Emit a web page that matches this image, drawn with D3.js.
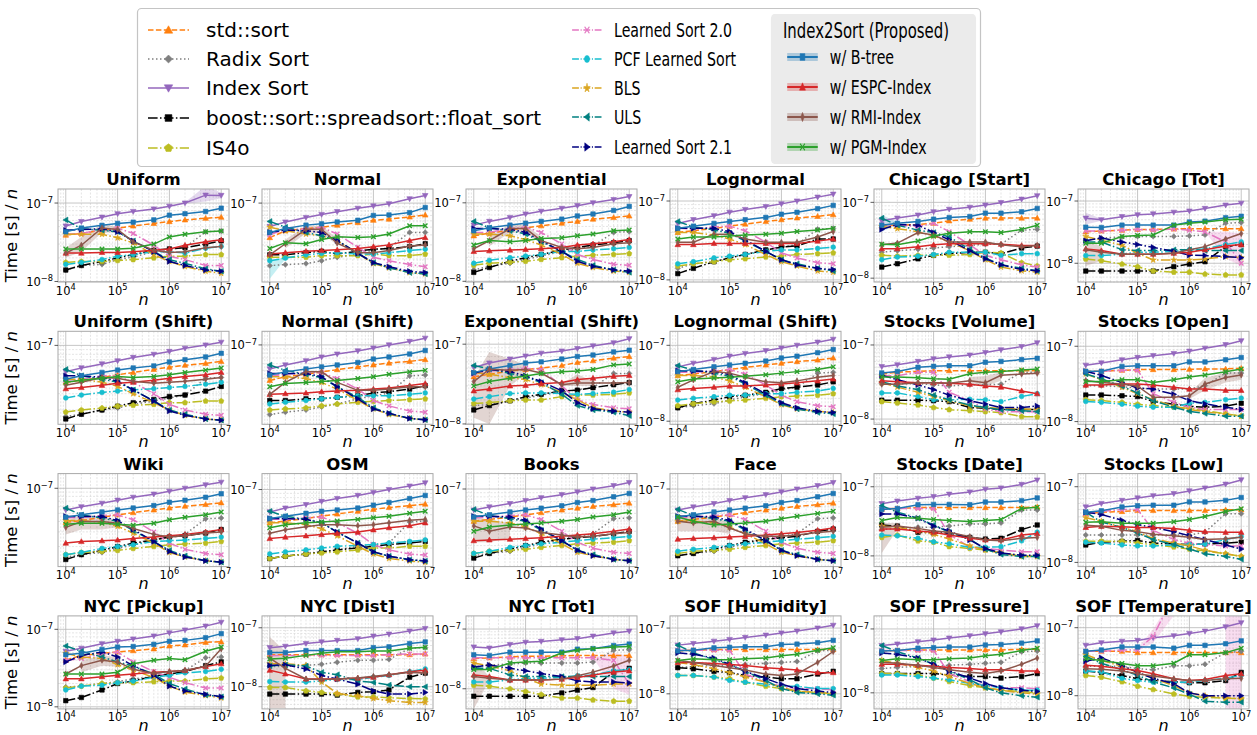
<!DOCTYPE html>
<html>
<head>
<meta charset="utf-8">
<script src="https://cdn.jsdelivr.net/npm/d3@7"></script>
<style>
  body { margin: 0; background: #fff; }
  svg text { font-family: "DejaVu Sans", sans-serif; fill: #000; }
</style>
</head>
<body>
<div id="chart"></div>
<script>
// input sizes n (x axis)
const sizes = [1e4, 2e4, 5e4, 1e5, 2e5, 5e5, 1e6, 2e6, 5e6, 1e7];

const seriesNames = ["std::sort", "Radix Sort", "Index Sort", "boost::sort::spreadsort::float_sort", "IS4o",
  "Learned Sort 2.0", "PCF Learned Sort", "BLS", "ULS", "Learned Sort 2.1",
  "w/ B-tree", "w/ ESPC-Index", "w/ RMI-Index", "w/ PGM-Index"];

const panelTitles = ["Uniform", "Normal", "Exponential", "Lognormal", "Chicago [Start]", "Chicago [Tot]",
  "Uniform (Shift)", "Normal (Shift)", "Exponential (Shift)", "Lognormal (Shift)", "Stocks [Volume]", "Stocks [Open]",
  "Wiki", "OSM", "Books", "Face", "Stocks [Date]", "Stocks [Low]",
  "NYC [Pickup]", "NYC [Dist]", "NYC [Tot]", "SOF [Humidity]", "SOF [Pressure]", "SOF [Temperature]"];

// Time [s] / n in nanoseconds; rows follow seriesNames order
const uniform = [
  [39,41,45,48,51,55,58,61,64,66],
  [14,16,16.5,19,20.5,24,26,27,43,44],
  [51,58,66,73,78,84,91,100,126,125],
  [14,16,18,20,22,25,26,27,30,33],
  [17.5,18,18,18.5,19,20,21,21,22,22],
  [40,41,46,48,41,29,21,19,16,16],
  [16.5,17.5,19,21,22,24,24,23,26.5,28],
  [40,40,40,36,31,22,18,15.5,13.5,12.7],
  [61,47,45,43,33,24,19,17,14.5,13.5],
  [45,46,47,43,33,24,18,16,14,13.5],
  [43,48,52,55,57,61,70,73,78,86],
  [23,23,23.5,23.5,24,25,26,29,32,34],
  [23,29,48,46,32,25,23.5,24,27,28],
  [26,26,26,26,26.5,30,37,40,43,44]
];
const normal = [
  [37,45,48,50,53,57,61,63,67,71],
  [16.5,17,17.5,19,21,23,26,27.5,43,43],
  [51,58,66,72,78,86,92,98,113,124],
  [22.5,22.5,24,25,23,25,26.5,27,28.5,31],
  [21,21,21,22,22,22,23,22,22,23],
  [40,47,47,50,41,28,21,19,17,16],
  [19,20.5,22.5,23.5,24,23,23,24,25.5,26.5],
  [50,45,41,39,34,23.5,17.5,15.5,13.5,13],
  [59,50,43,39,34,23.5,18,15.5,13.5,13],
  [43,46,45,43,34,23.5,18,16,14,13.5],
  [43,48,53,55,58,61,70,71,76,88],
  [23,24,25,25.5,26,27,28.5,30,34,37],
  [22.5,31,47,47,31.5,24,24,25.5,29,30],
  [27,32,31,35,38,37,38,41,52,52]
];
const exponential = [
  [38,41,45,48,51,55,58,62,65,68],
  [14,15.5,17,19,21,24,26,28,42,43],
  [52,58,65,72,78,85,92,100,110,120],
  [13,15,18,20,22,25,27,29,31,33],
  [16,17,17.5,18,19,20,21,21.5,22,22.5],
  [42,42,47,49,42,30,22,19,16.5,16],
  [17,18.5,20,21,22,24,24,25,26,27],
  [40,40,38,34,29,22,17,15,13.5,13],
  [58,48,44,40,32,24,19,16,14,13],
  [47,47,46,42,33,24,18,15.5,14,13.5],
  [44,48,52,55,58,62,68,72,80,90],
  [24,24.5,25,25.5,26,27,29,30,32,34],
  [26,33,47,47,33,27,26,27,30,31],
  [29,33,32,33,35,36,38,40,44,45]
];
const lognormal = [
  [40,42,45,48,51,55,58,61,64,67],
  [14,16,17,19,21,24,26,28,44,45],
  [52,58,65,72,78,85,92,100,112,122],
  [12,14,17,19,21,24,26,27,33,33],
  [15,16,17,18,18.5,19.5,20,21,21.5,22],
  [45,44,47,48,42,30,22,19,16.5,16],
  [16,17,19,20,21,23,24,24,25,26],
  [40,40,37,33,28,21,17,15,13,12.5],
  [55,47,43,39,31,23,18,16,14,13],
  [45,45,45,41,32,23,18,15.5,14,13.5],
  [45,48,52,55,58,62,68,72,80,88],
  [28,28,29,29,29,29,29,29,31,33],
  [30,30,38,38,33,30,30,30,35,41],
  [33,35,35,36,37,38,39,41,43,45]
];
const chicagoStart = [
  [49,50,51,53,57,60,62,62,62,62],
  [22,23,24,25,26,27,28,28,43,44],
  [57,62,68,75,81,86,92,99,110,122],
  [14,15.5,18,20,21,22,22,21,25,26.5],
  [20,19.5,20,20,20,20.5,22,21.5,16,14.5],
  [51,50,48,53,41,27.5,20,17.5,15,14],
  [17.5,19,19.5,20.5,22,22,22,20,21,21],
  [48,45,41,36,30,23,17.5,14,12.5,12],
  [62,50,43,40,35,24,18.5,15,13.5,12.5],
  [44,51,50,40,32,23,18,15,13,12.5],
  [50,53,56,60,63,65,72,72,75,83],
  [24.5,24.5,26,27.5,28.5,28.5,28.5,28,27,27],
  [27.5,29,40,37,30,30,30,27.5,26,27],
  [28,27.5,31,36,39,41,41,40,44,50]
];
const chicagoTot = [
  [32,33,34,35,35,35.5,36,36,36,36],
  [23.5,25.5,26.5,27,27,27,27.5,28.5,44,45],
  [53,50,56,60,62,66,69,76,86,92],
  [7.5,7.5,7.5,7.5,7.5,8.8,9.7,10.6,18.5,20],
  [11.7,11,9.7,8.8,7.5,7.2,7.2,6.7,6.5,6.5],
  [33,33,34,35,34,35.5,34,32,22,10],
  [13.3,13.3,14,15,15,15.5,16.5,17,20,22],
  [27,23.5,19.5,14.5,11.3,11.3,11.3,11.7,12.8,12.3],
  [22,22,16.5,16,16,16.5,16.5,16,16,16],
  [23,25.5,22,20,18,15.5,13.5,13.3,12.8,12.3],
  [38,37.5,41,41,41,41,46,47.5,54,57],
  [17,16,14,14,14,14.5,15,16.5,19,20],
  [16.5,15,14,14,14,14.5,16.5,18.5,24.5,30],
  [21,21,27,28,28.5,41,44,46,50,51]
];
const uniformShift = [
  [40,42,45,48,51,55,58,61,64,67],
  [17,18,20,21,23,25,27,29,44,45],
  [52,57,63,68,74,80,86,93,101,108],
  [16,18,20,22,24,26,28,29,32,36],
  [19,20,21,22,22.5,23,24,24,25,25],
  [42,43,47,47,40,30,23,20,18,17.5],
  [27,29,31,32,33,34,35,36,38,40],
  [43,43,40,36,30,24,20,17.5,16,15.5],
  [55,47,43,40,33,25,20,18,16,15.5],
  [47,47,45,41,33,25,19.5,17.5,16,15.5],
  [43,47,51,54,57,60,66,70,75,82],
  [34,35,37,39,40,42,44,46,48,51],
  [37,40,45,44,41,39,40,41,43,45],
  [40,42,44,46,45,46,48,51,54,57]
];
const normalShift = [
  [38,42,45,48,51,55,58,61,64,67],
  [15,16,17,18.5,20,23,25,27,43,44],
  [52,58,65,72,78,85,92,100,110,120],
  [22,22,23,23,24,25,27,28,30,33],
  [17,17.5,18,19,20,21,21.5,22,22.5,23],
  [43,45,47,47,40,30,22,19,16.5,16],
  [20,21,22,23,24,25,25,25,26,27],
  [42,42,40,36,30,22,17.5,15,13.5,13],
  [58,50,45,41,32,24,18,15.5,13.5,13],
  [46,46,46,42,32,23,17.5,15.5,13.5,13],
  [44,48,52,55,58,62,68,72,78,86],
  [26,26.5,27,28,28.5,29,30,31,33,35],
  [26,36,48,48,36,29,29,30,32,32],
  [32,35,36,37,38,40,42,45,48,50]
];
const exponentialShift = [
  [39,42,46,48,50,54,59,62,67,70],
  [17,17.5,19.5,21,23,25,27,28.5,43,43],
  [51,58,65,71,77,82,88,95,104,117],
  [15,17,19.5,22,23.5,26,26.5,28.5,31,33],
  [18,18.5,19.5,20,20,22,23,23,23.5,24.5],
  [42,46,48,50,48,30,20,17.5,16,15.5],
  [20.5,22,24,24.5,24.5,24,23.5,24,25,27],
  [44,42,38,36,31,25,20,16,14.5,14],
  [54,49,43,39,33,23.5,17,15,14,12.7],
  [43.5,48,45.5,40,34,26,18.5,15.5,14.5,14],
  [44,49,54,58,60,65,70,73,80,84],
  [26,27.5,30,30.5,32,33,36,37.5,39.5,40.5],
  [34,48.5,47,48,43.5,31,32.5,32.5,32.5,33],
  [30,34,37.5,40,43,45,46,48,55,56.5]
];
const lognormalShift = [
  [40,42,45,48,51,55,58,61,64,68],
  [15,16,17,19,21,23,26,28,43,44],
  [52,58,65,72,78,85,92,100,110,120],
  [15,17,19,21,22,24,27,28,30,33],
  [16,17,18,18.5,19,20,21,21.5,22,23],
  [44,44,46,48,42,30,22,18,16,15.5],
  [19,20,21,22,22,23,23,24,25,27],
  [40,40,38,34,28,21,16.5,14.5,13.5,13],
  [54,47,43,39,31,22,17,14.5,13,12.5],
  [46,46,45,41,32,23,17.5,15,13.5,13],
  [45,48,52,55,58,62,68,72,80,88],
  [26,27,28,29,29,30,31,32,34,36],
  [28,35,45,43,38,33,32,34,38,40],
  [33,36,37,38,39,41,43,45,48,52]
];
const stocksVolume = [
  [40.5,43,44,45,45,45,45,45,45,45],
  [30,30,30,29,28,29,29,29.5,43,43],
  [51,54,60,65,69,73,79,86,95,107],
  [18,18,18,17.7,17.2,14.3,14,13.5,13.5,13.5],
  [17.2,16.5,15.5,14.3,13.4,13,12.6,12.2,10.8,10.7],
  [38.5,38.5,43,43,23,17.7,13.7,12.6,12.6,12.6],
  [22.5,22.5,20.2,18.2,18.2,18.5,18.2,17.2,20.2,22],
  [31,27,23,20.3,17.7,15,14.3,14,13.7,13.5],
  [32,28,25,21,18.2,15.5,14.3,13.4,13,12.6],
  [39,34,29,25,21,17.7,16,14.3,14.3,15],
  [42,44,50,51.5,52.5,52.5,58.5,60,63.5,66],
  [33,32,31,31,30.5,29.5,28,27,24,22],
  [29.5,29.5,31,31,30.5,33,31,39,40.5,41.5],
  [37,37,36,35,34.5,41,43,44,46,47.5]
];
const stocksOpen = [
  [46.5,46.5,48,49,49,49,49.5,50,50,51],
  [30,30,29,28,27,27,27,30,44,44],
  [56,60,66,71,75,80,86,94,105,118],
  [22.5,22.5,22,21.5,18.5,17,16,15.5,16,17.5],
  [19.5,19,18,17,16.3,15.5,15,14,12.7,11.8],
  [45,46.5,48,48,23.5,18,15.5,14.5,14.5,14.5],
  [18.5,18,17,16,15.5,15.5,17.5,18,19.5,20.5],
  [43,36,28.5,23.5,19.5,16,14.5,13.5,12.5,11.8],
  [43,37,29.5,24,19,15.5,13.7,12.8,11.8,11.8],
  [46.5,41,33,28,27,23,19,17.2,15.5,14.5],
  [46.5,46.5,54,55,55,55,62,62,66,71],
  [30.5,30.5,31.5,31.5,30.5,28.5,27,27,26,26],
  [35,33,31.5,29.5,21,21,22,31.5,38.5,41.5],
  [34,34,36,36,33,36,39,41.5,46,50]
];
const wiki = [
  [39,41,45,48,51,55,58,61,64,67],
  [15,16,17,19,21,24,26,28,43,44],
  [55,60,66,72,78,85,92,100,110,118],
  [14,16,18,20,22,24,26,27,29,32],
  [16,17,17.5,18,19,20,21,21.5,22,23],
  [44,45,47,48,42,30,22,18.5,16.5,16],
  [16,17,19,20,21,23,23.5,24,25,26],
  [41,41,39,35,29,22,17,15,13.5,13],
  [58,48,44,40,31,23,18,15.5,13.5,13],
  [46,46,46,41,32,23,17.5,15,13.5,13],
  [45,48,52,55,58,62,68,72,78,86],
  [22,23,23.5,24,25,26,27,28,30,32],
  [34,40,40,38,33,28,26,27,29,30],
  [37,38,38,37,36,38,42,45,48,52]
];
const osm = [
  [40,42,45,48,51,55,58,61,64,67],
  [15,16,17,18,19,21,22,23,41,42],
  [54,60,66,72,78,85,92,100,110,120],
  [15,16,17,18,19,20,21,22,23,24],
  [15,16,17,17.5,18,19,20,20,21,21],
  [44,44,46,47,40,30,22,19,17,16.5],
  [17,18,19,20,21,21.5,22,23,24,25],
  [40,40,38,34,28,21,17,15,14,13.5],
  [55,48,44,40,31,23,18,16,14.5,14],
  [45,45,44,40,31,23,18,16,14.5,14],
  [45,48,52,55,57,60,65,70,78,85],
  [26,27,28,29,30,31,33,35,37,40],
  [30,33,36,38,38,37,38,40,43,44],
  [35,38,40,41,42,44,46,48,52,55]
];
const books = [
  [40,42,45,48,51,55,58,61,64,67],
  [15,16,17,19,21,24,26,28,43,44],
  [55,60,66,72,78,85,92,100,110,120],
  [14,16,18,20,22,24,25,26,28,30],
  [16,17,17.5,18,19,20,21,21.5,22,23],
  [44,45,47,48,42,30,22,18.5,16.5,16],
  [16,17,19,20,21,22,23,24,25,26],
  [40,40,38,34,28,21,16.5,15,13.5,13],
  [56,47,43,40,31,23,17.5,15.5,13.5,13],
  [46,46,45,41,32,23,17.5,15,13.5,13],
  [45,48,52,55,58,62,68,72,80,88],
  [23,23.5,24,24.5,25,26,27,28,30,32],
  [35,30,34,33,29,27,25.5,26,28,29],
  [30,34,36,37,38,40,42,45,48,52]
];
const face = [
  [40,42,45,48,51,55,58,61,64,67],
  [15,16,17,19,21,24,26,28,43,44],
  [55,60,66,72,78,85,92,100,110,120],
  [15,16,18,20,22,24,25,26,30,32],
  [16,17,17.5,18,19,20,21,21.5,22,23],
  [44,45,47,48,42,30,22,18.5,16.5,16],
  [17,18,19,20,21,22,23,24,25,26],
  [40,40,38,34,28,21,16.5,15,13.5,13],
  [56,47,43,40,31,23,17.5,15.5,13.5,13],
  [46,46,45,41,32,23,17.5,15,13.5,13],
  [45,48,52,55,58,62,68,72,80,88],
  [24,24.5,25,25.5,26,27,28,29,31,33],
  [40,38,40,33,28,26,26,27,29,30],
  [45,40,36,37,38,40,43,46,50,53]
];
const stocksDate = [
  [47.5,48.5,50,50,50,50,50,50,50,51],
  [24,25,26,26,27,29,29,30,46,46],
  [57,62,68,72,78,84,92,96,108,125],
  [28,27,22,21.5,21.5,18.5,17.5,18,24,28],
  [18.5,20,16.5,15.8,13.6,12.8,12.2,11,10,10],
  [48.5,48.5,48.5,48.5,20.5,13.3,12.8,12.2,11.5,11.5],
  [20,19.5,18,16,15,13.3,13.3,13.6,16.5,22],
  [27,26,23,20.5,17.5,14,12.2,11,9.8,9.8],
  [53,43,35,28,22,17.5,12.5,10.5,9.8,9.8],
  [40.5,40.5,35,27,23,17,12.8,11,10.2,10.2],
  [47,48.5,55,55.5,55.5,55,60,60,63,69],
  [24.5,24.5,23,22,20,18,17,17,20,21],
  [26,27,25,23,22,19,17,16.5,18,18.5],
  [32.5,36,35,33.5,32.5,31.5,32.5,33.5,48.5,50.5]
];
const stocksLow = [
  [44,46,47,48.5,48.5,48.5,48.5,48.5,49.5,49.5],
  [23,23,23,23,23,23,23,25,44,44],
  [54,60,66,71,76,81,88,96,108,123],
  [17,18.5,19,19.5,18,17.5,17.2,17.5,18,18.5],
  [19,19,19,18,17.2,16,15,14.2,13,12],
  [44,47,50,50,26.5,20,18,17.2,16.5,16.5],
  [18.5,18,17,16.5,16.5,17,17.2,17.5,20,22],
  [39,35,29,25.5,20.5,18,16.5,14.5,13,12],
  [46,34,29,24.5,20,17.2,15,13,12,11],
  [46,43,36,31.5,29,25.5,22.5,20,17,15],
  [46,48,54,56,57,57,63,63,66,72],
  [29,30,29.5,29,29,28,26.5,25.5,25,25],
  [31,30,26.5,25.5,23.5,22.5,21.5,20,20.5,21.5],
  [34,34.5,33,33,33,34.5,37,40.5,47,51]
];
const nycPickup = [
  [40,46,49,51,53,56,61,63,68,69],
  [18,18.5,20,21,23,24.5,26,29.5,43,44],
  [52,57,65,70,75,82,90,98,110,123],
  [12,13.2,16.5,20,21.5,25,26.5,28.5,34,38],
  [17.5,18.5,20,20.5,20.5,21,21.5,21.5,23,23.5],
  [40,42,48,51,38,28.5,24,20.5,17.5,17.5],
  [16.5,18.5,19,20.5,21.5,24,25.5,27.5,28.5,30.5],
  [49,44,42,35,29.5,24,18.5,15.5,14,13],
  [61,52,44,38,33.5,26.5,20,17,14.2,13.5],
  [38,46,51,44,34,25.5,18.5,16,14.5,13.5],
  [47,49,55,59,60,64,70,72,78,88],
  [23,23,24.5,25.5,26.5,28,28.5,29.5,33,36],
  [26.5,34,40,38,30.5,27,28.5,29.5,33.5,56],
  [26.5,26.5,26.5,28,36,40,42,40.5,52,59]
];
const nycDist = [
  [35,35,35,35,35,35,35,35,35,36],
  [22,22,23,24,26,28,28,29,45,46],
  [46,48.5,54,57.5,61,65,72,78,88,97],
  [7.5,7.5,7.5,7.5,7.2,8,8.2,8.8,14.5,17],
  [9.7,9.7,8.5,8,7.5,6.7,6.7,6.5,6.3,6.2],
  [33.5,34,34,34,34,34,34,35,36,36],
  [12.2,12,12,12.5,13.3,13.3,14.5,15.5,18,20],
  [24.5,24.5,23,12,7.7,7,6.3,5.8,5.4,5.4],
  [22.5,23.5,22.5,17.5,16,12.5,11.8,10.7,10,10],
  [23,23.5,20,15.5,13.5,11,8.5,7.5,7.5,8],
  [38,38,41,41,41,41,46,47.5,54,57.5],
  [19,16.5,13.5,13.5,13.5,14,14.5,16,18,19],
  [30.5,20.5,13.5,13.3,13.5,14,15,16,17.5,17],
  [29.5,30.5,34,37,39,39,40.5,40.5,45,46.5]
];
const nycTot = [
  [32,33,34,35,35,35.5,36,36,36,36],
  [23,25,26,27,27,27,27,28,44,45],
  [50,48,55,60,62,66,69,76,86,92],
  [7.5,7.5,7.5,7.5,7.5,8.5,9.5,10.5,19,22],
  [11.5,11,10,9,8,7,7,6.5,6.2,6.2],
  [33,33,33,33,33,33,33,33,30,12],
  [13,13,14,15,15,15.5,16.5,17,20,21],
  [27,24,20,15,12,11.5,11.5,11.5,12,12],
  [22,22,17,16,16,16,16,16,16,16],
  [23,25,22,20,18,16,13.5,13,13,12.5],
  [37,36,41,41,41,41,46,47,53,56],
  [17,16,14,14,14,14.5,15.5,17,19,20],
  [16,15,14,14,14,14.5,16.5,19,24,30],
  [21,21,27,28,29,40,44,47,50,51]
];
const sofHumidity = [
  [45,46,47,47,47,47,47,47,47,47],
  [25,26,27,27,28,29,30,31,45,46],
  [55,58,63,67,72,78,84,90,100,110],
  [25,24,22,21,19,18,17,17,20,22],
  [19,19,18,17,15,13,12,11,10.5,10],
  [46,46,46,46,20,15,13,12,12,11.5],
  [19,19,18,16,15,14,13,13,12,12],
  [30,28,24,21,18,15,12.5,11,10.5,10],
  [55,42,33,28,22,16,12,10.5,10,9.5],
  [42,40,35,28,22,17,14,12,11,10.5],
  [45,46,50,51,52,52,56,57,60,65],
  [30,30,29,28,27,25,24,23,21,21],
  [32,30,27,25,23,20,19,20,30,44],
  [32,34,33,33,34,35,38,40,46,50]
];
const sofPressure = [
  [45,46,47,47,47,47,47,47,48,48],
  [24,25,26,26,27,28,29,30,44,45],
  [55,58,63,67,72,78,84,90,100,112],
  [20,20,20,20,19,18,18,17,18,20],
  [20,20,19,17,15,13,12,11,10.5,10],
  [46,46,46,46,20,15,13,12,12,11.5],
  [19,19,18,17,16,14,13,12,11,11],
  [32,29,25,22,18,14,12,11,10,9.5],
  [55,44,35,28,22,16,12,10,9,8.5],
  [42,40,35,28,22,17,14,12,11,10.5],
  [45,46,50,51,52,52,56,57,60,65],
  [28,28,27,26,25,24,23,23,22,22],
  [30,29,27,25,23,21,20,22,28,35],
  [32,34,33,33,34,35,38,40,46,50]
];
const sofTemperature = [
  [45,45,45,43,43,43,43,43,43,43],
  [27,27,27,25,24,27.5,27.5,29,43,45],
  [55,60,63,65,71,76,82,89,103,118],
  [23,22,19.8,17.7,16.7,16,15.5,15.5,16.7,22],
  [19.8,18.7,16,13.8,12.3,10.6,9.8,9.5,9.2,9],
  [45,45,47,47,75,300,null,null,null,null],
  [23,22.5,18,16.7,15.8,15.8,15.8,16.7,18,20],
  [40,33,27,22,18,14,11,10,9.3,9],
  [38,30,24,20,16,13,10.5,8.3,8,8],
  [32,36,28,22,18,15,11,10,10,10],
  [45,47,52,52,52,50,55,55,58,64],
  [28,27,25,23.5,21,17.7,16.7,17.3,19.8,21],
  [25,24.5,23,21,19.5,17.7,16.7,16.7,17.7,18],
  [35,33,29.7,27.5,27.5,30,40,40,43,50]
];

const panelData = [uniform, normal, exponential, lognormal, chicagoStart, chicagoTot,
  uniformShift, normalShift, exponentialShift, lognormalShift, stocksVolume, stocksOpen,
  wiki, osm, books, face, stocksDate, stocksLow,
  nycPickup, nycDist, nycTot, sofHumidity, sofPressure, sofTemperature];

// y axis limits per panel (ns)
const yLimits = [
  [9.85,151],[10.3,150],[9.8,150],[9.4,142],[8.9,150],[5.0,156],
  [14,142],[11.5,145],[9.9,145],[9.1,153],[8.5,153],[9.2,158],
  [11.5,150],[12,155],[11,155],[11,155],[7.0,155],[8.8,149],
  [9.4,149],[4.2,159],[4.6,166],[5.9,153],[5.6,160],[6.4,149]
];

const xTicks = [1e4, 1e5, 1e6, 1e7];
const yTicks = [1e-8, 1e-7];

// shaded spread: [panel, series, low, high] (ns)
const N = null;
const bands = [
  [0, 2, [N,N,N,N,N,N,N,98,105,115], [N,N,N,N,N,N,N,102,165,135]],
  [0, 12, [20,24,42,42,N,N,N,N,N,N], [27,37,54,50,N,N,N,N,N,N]],
  [1, 6, [11.3,20,N,N,N,N,N,N,N,N], [19,21,N,N,N,N,N,N,N,N]],
  [1, 12, [N,27,42,42,30,N,N,N,N,N], [N,35,52,52,36,N,N,N,N,N]],
  [2, 12, [N,28,42,42,30,N,N,N,N,N], [N,38,53,52,37,N,N,N,N,N]],
  [4, 10, [41,52,N,N,N,N,N,N,N,N], [68,55,N,N,N,N,N,N,N,N]],
  [5, 2, [42,48,N,N,N,N,N,N,N,N], [65,52,N,N,N,N,N,N,N,N]],
  [5, 12, [9,11,N,N,N,N,N,N,N,N], [22,19,N,N,N,N,N,N,N,N]],
  [5, 5, [N,N,N,N,N,N,N,32,12,9], [N,N,N,N,N,N,N,32,32,30]],
  [8, 12, [12,10,30,42,N,30,30,30,N,N], [38,80,65,55,N,32,42,34,N,N]],
  [10, 12, [N,N,N,N,N,29,28,33,N,N], [N,N,N,N,N,37,38,43,N,N]],
  [11, 12, [N,N,N,N,N,N,20,26,33,36], [N,N,N,N,N,N,24,38,45,46]],
  [12, 12, [28,32,32,34,N,N,N,N,N,N], [40,48,46,42,N,N,N,N,N,N]],
  [14, 12, [22,22,25,N,N,N,N,N,N,N], [45,42,38,N,N,N,N,N,N,N]],
  [15, 12, [30,30,30,28,N,N,N,N,N,N], [48,46,45,38,N,N,N,N,N,N]],
  [16, 12, [11,24,N,N,N,N,N,N,N,N], [30,30,N,N,N,N,N,N,N,N]],
  [18, 12, [N,28,34,33,N,N,N,N,N,N], [N,40,46,44,N,N,N,N,N,N]],
  [19, 12, [4.3,4.3,N,N,N,N,N,N,N,N], [70,40,N,N,N,N,N,N,N,N]],
  [20, 12, [4.6,14,N,N,N,N,N,N,N,N], [30,16,N,N,N,N,N,N,N,N]],
  [20, 5, [N,N,N,N,N,N,N,33,10,8], [N,N,N,N,N,N,N,33,40,35]],
  [23, 5, [N,N,N,45,60,150,N,N,N,N], [N,N,N,50,95,300,N,N,N,N]],
  [23, 5, [N,N,N,N,N,N,N,N,6,6], [N,N,N,N,N,N,N,N,300,300]]
];

const dashdot = "9.6,2.4,1.5,2.4";
const styles = [
  {color: "#ff7f0e", dash: "5.5,2.4", marker: "^"},
  {color: "#7f7f7f", dash: "1.5,2.5", marker: "D"},
  {color: "#9467bd", dash: null, marker: "v"},
  {color: "#000000", dash: dashdot, marker: "s"},
  {color: "#bcbd22", dash: dashdot, marker: "p"},
  {color: "#e377c2", dash: dashdot, marker: "x"},
  {color: "#17becf", dash: dashdot, marker: "o"},
  {color: "#daa520", dash: dashdot, marker: "*"},
  {color: "#008080", dash: dashdot, marker: "<"},
  {color: "#000080", dash: dashdot, marker: ">"},
  {color: "#1f77b4", dash: null, marker: "s"},
  {color: "#d62728", dash: null, marker: "^"},
  {color: "#8c564b", dash: null, marker: "d"},
  {color: "#2ca02c", dash: null, marker: "x"}
];

function markerPath(m, r) {
  let p;
  switch (m) {
    case "^": p = [[0,-r],[r,r*0.75],[-r,r*0.75]]; break;
    case "v": p = [[0,r],[r,-r*0.75],[-r,-r*0.75]]; break;
    case "<": p = [[-r,0],[r*0.75,-r],[r*0.75,r]]; break;
    case ">": p = [[r,0],[-r*0.75,-r],[-r*0.75,r]]; break;
    case "s": { const a = r*0.8; p = [[-a,-a],[a,-a],[a,a],[-a,a]]; break; }
    case "D": { const a = r*0.95; p = [[0,-a],[a,0],[0,a],[-a,0]]; break; }
    case "d": p = [[0,-r*1.1],[r*0.6,0],[0,r*1.1],[-r*0.6,0]]; break;
    case "p": p = d3.range(5).map(i => { const t = -Math.PI/2 + i*2*Math.PI/5; return [r*Math.cos(t), r*Math.sin(t)]; }); break;
    case "*": p = d3.range(10).map(i => { const t = -Math.PI/2 + i*Math.PI/5, rr = i % 2 ? r*0.45 : r*1.15; return [rr*Math.cos(t), rr*Math.sin(t)]; }); break;
    case "o": { const a = r*0.85; return `M${a},0A${a},${a} 0 1,1 ${-a},0A${a},${a} 0 1,1 ${a},0Z`; }
    case "x": { const a = r*0.8; return `M${-a},${-a}L${a},${a}M${-a},${a}L${a},${-a}`; }
  }
  return "M" + p.map(q => q[0].toFixed(2) + "," + q[1].toFixed(2)).join("L") + "Z";
}

function drawMarker(g, st, cx, cy, r) {
  const isX = st.marker === "x";
  g.append("path")
    .attr("transform", `translate(${cx},${cy})`)
    .attr("d", markerPath(st.marker, r))
    .attr("fill", isX ? "none" : st.color)
    .attr("stroke", st.color)
    .attr("stroke-width", isX ? 1.4 : 0.6);
}

const svg = d3.select("#chart").append("svg")
  .attr("width", 1257).attr("height", 735);

// --- panels ---
const pw = 171, ph = 93;
const x = d3.scaleLog().domain([10 ** 3.85, 10 ** 7.15]).range([0, pw]);

function supText(g, base, exp, px, py, anchor, size) {
  const t = g.append("text").attr("x", px).attr("y", py)
    .attr("text-anchor", anchor).style("font-size", size + "px");
  t.append("tspan").text(base);
  t.append("tspan").attr("dy", -size * 0.42).style("font-size", (size * 0.72) + "px").text(exp);
  return t;
}

panelTitles.forEach((title, k) => {
  const col = k % 6, row = Math.floor(k / 6);
  const left = 58 + 204 * col, top = 189 + 142.3 * row;
  const g = svg.append("g").attr("transform", `translate(${left},${top})`);
  const y = d3.scaleLog()
    .domain([yLimits[k][0] * 1e-9, yLimits[k][1] * 1e-9])
    .range([ph, 0]);

  // grid, major and minor
  const grid = g.append("g");
  const [y0, y1] = y.domain();
  for (let d = 3; d <= 7; d++) {
    for (let m = 1; m <= 9; m++) {
      const v = m * 10 ** d;
      if (v < x.domain()[0] || v > x.domain()[1]) continue;
      grid.append("line").attr("x1", x(v)).attr("x2", x(v)).attr("y1", 0).attr("y2", ph)
        .attr("stroke", m === 1 ? "#b8b8b8" : "#d4d4d4")
        .attr("stroke-width", m === 1 ? 0.8 : 0.6)
        .attr("stroke-dasharray", m === 1 ? null : "2,1.5");
    }
  }
  for (let d = -10; d <= -6; d++) {
    for (let m = 1; m <= 9; m++) {
      const v = m * 10 ** d;
      if (v < y0 || v > y1) continue;
      grid.append("line").attr("x1", 0).attr("x2", pw).attr("y1", y(v)).attr("y2", y(v))
        .attr("stroke", m === 1 ? "#b8b8b8" : "#d4d4d4")
        .attr("stroke-width", m === 1 ? 0.8 : 0.6)
        .attr("stroke-dasharray", m === 1 ? null : "2,1.5");
    }
  }

  const clipId = "clip" + k;
  g.append("clipPath").attr("id", clipId)
    .append("rect").attr("width", pw).attr("height", ph);
  const plot = g.append("g").attr("clip-path", `url(#${clipId})`);

  // spread bands
  bands.filter(b => b[0] === k).forEach(b => {
    const pts = sizes.map((n, i) => [n, b[2][i], b[3][i]]);
    const area = d3.area()
      .defined(d => d[1] != null)
      .x(d => x(d[0]))
      .y0(d => y(d[1] * 1e-9))
      .y1(d => y(d[2] * 1e-9));
    plot.append("path").attr("d", area(pts))
      .attr("fill", styles[b[1]].color).attr("fill-opacity", 0.25);
  });

  // series
  panelData[k].forEach((vals, s) => {
    const st = styles[s];
    const pts = sizes.map((n, i) => [n, vals[i]]);
    const line = d3.line()
      .defined(d => d[1] != null)
      .x(d => x(d[0]))
      .y(d => y(d[1] * 1e-9));
    plot.append("path").attr("d", line(pts))
      .attr("fill", "none").attr("stroke", st.color)
      .attr("stroke-width", 1.5)
      .attr("stroke-dasharray", st.dash);
    pts.filter(d => d[1] != null).forEach(d => drawMarker(plot, st, x(d[0]), y(d[1] * 1e-9), 2.8));
  });

  // frame
  g.append("rect").attr("width", pw).attr("height", ph)
    .attr("fill", "none").attr("stroke", "#a8a8a8").attr("stroke-width", 1);

  // ticks
  xTicks.forEach(v => {
    g.append("line").attr("x1", x(v)).attr("x2", x(v)).attr("y1", ph).attr("y2", ph + 3.5)
      .attr("stroke", "#333").attr("stroke-width", 0.8);
    supText(g, "10", String(Math.round(Math.log10(v))), x(v), ph + 12.5, "middle", 11.5);
  });
  yTicks.forEach(v => {
    if (v < y0 || v > y1) return;
    g.append("line").attr("x1", -3.5).attr("x2", 0).attr("y1", y(v)).attr("y2", y(v))
      .attr("stroke", "#333").attr("stroke-width", 0.8);
    supText(g, "10", "\u2212" + String(Math.round(-Math.log10(v))), -5, y(v) + 4.5, "end", 11.5);
  });

  // title and x label
  g.append("text").attr("x", pw / 2).attr("y", -4)
    .attr("text-anchor", "middle")
    .style("font-size", "16.5px").style("font-weight", "bold")
    .text(title);
  g.append("text").attr("x", pw / 2).attr("y", ph + 22.5)
    .attr("text-anchor", "middle")
    .style("font-size", "16px").style("font-style", "italic")
    .text("n");

  if (col === 0) {
    const t = g.append("text")
      .attr("transform", `translate(-41,${ph / 2}) rotate(-90)`)
      .attr("text-anchor", "middle")
      .style("font-size", "16.5px");
    t.append("tspan").text("Time [s] / ");
    t.append("tspan").style("font-style", "italic").text("n");
  }
});

// --- legend ---
const legend = svg.append("g");
legend.append("rect")
  .attr("x", 137.5).attr("y", 8.5).attr("width", 843).attr("height", 158).attr("rx", 4)
  .attr("fill", "#fff").attr("stroke", "#c4c4c4").attr("stroke-width", 1.2);

function drawHandle(g, s, x0, x1, yc, withBand) {
  const st = styles[s];
  if (withBand) {
    g.append("rect").attr("x", x0).attr("y", yc - 4).attr("width", x1 - x0).attr("height", 8)
      .attr("fill", st.color).attr("fill-opacity", 0.3);
  }
  g.append("line").attr("x1", x0).attr("x2", x1).attr("y1", yc).attr("y2", yc)
    .attr("stroke", st.color).attr("stroke-width", withBand ? 2 : 1.5)
    .attr("stroke-dasharray", st.dash);
  drawMarker(g, st, (x0 + x1) / 2, yc, 4.2);
}

const legendFont = 20;
const rowsA = [30, 59, 88, 118, 148];
[0, 1, 2, 3, 4].forEach((s, i) => {
  drawHandle(legend, s, 148, 189, rowsA[i], false);
  legend.append("text").attr("x", 206).attr("y", rowsA[i] + 7)
    .style("font-size", legendFont + "px").text(seriesNames[s]);
});

// right part of the legend is horizontally squeezed in the reference
const right = legend.append("g").attr("transform", "translate(565,0) scale(0.71,1)");
const rowsB = [30, 59, 88, 117, 147];
[5, 6, 7, 8, 9].forEach((s, i) => {
  drawHandle(right, s, 10, 52, rowsB[i], false);
  right.append("text").attr("x", 69).attr("y", rowsB[i] + 7)
    .style("font-size", legendFont + "px").text(seriesNames[s]);
});
right.append("rect").attr("x", 290).attr("y", 14).attr("width", 289).attr("height", 150)
  .attr("rx", 5).attr("fill", "#ebebeb");
right.append("text").attr("x", 307).attr("y", 38)
  .style("font-size", "21px").text("Index2Sort (Proposed)");
const rowsC = [57, 87, 117, 147];
[10, 11, 12, 13].forEach((s, i) => {
  drawHandle(right, s, 313, 356, rowsC[i], true);
  right.append("text").attr("x", 373).attr("y", rowsC[i] + 7)
    .style("font-size", legendFont + "px").text(seriesNames[s]);
});
</script>
</body>
</html>
